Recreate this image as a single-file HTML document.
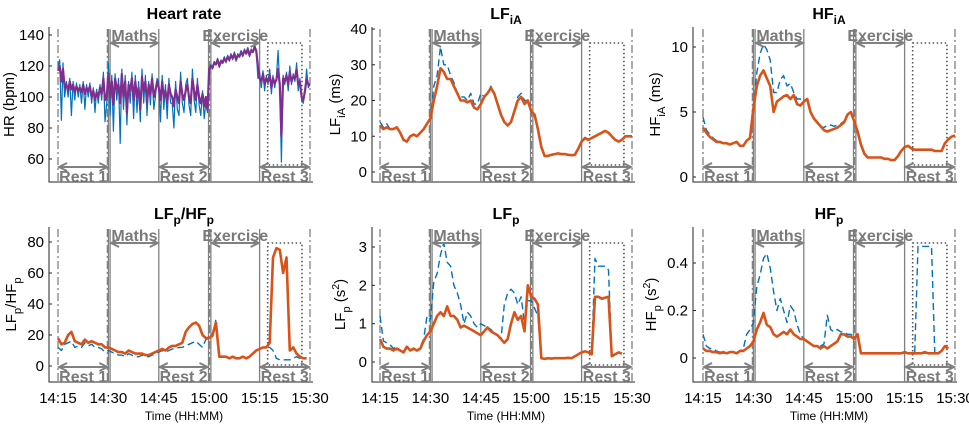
<!DOCTYPE html>
<html><head><meta charset="utf-8"><style>
html,body{margin:0;padding:0;background:#fff;}
svg{display:block;font-family:"Liberation Sans",sans-serif;}
</style></head><body>
<svg id="chart" width="969" height="425" viewBox="0 0 969 425" xmlns="http://www.w3.org/2000/svg"></svg>
<script>
// ---- data (minutes since 14:15) ----
const timeTicks = [0,15,30,45,60,75];
const timeTickLabels = ["14:15","14:30","14:45","15:00","15:15","15:30"];
const segmentNames = ["Rest 1","Maths","Rest 2","Exercise","Rest 3"];
// HR at 0.5 min resolution
const hrFiltered = [117,120,110,118,106,108,104,110,105,108,103,107,104,106,103,108,102,106,104,107,100,104,98,103,100,106,102,112,98,100,
 115,100,110,95,112,105,108,96,115,100,110,90,108,104,112,98,110,100,106,92,113,104,110,96,108,102,112,100,104,110,
 106,98,110,100,104,96,108,102,100,94,105,100,96,110,102,98,104,108,100,96,112,104,98,108,100,96,102,94,100,92,
 118,120,119,122,121,124,120,123,122,125,123,126,124,127,125,128,124,127,126,129,127,130,128,131,127,130,129,132,130,120,
 112,110,115,108,112,110,114,106,112,109,111,118,108,75,112,110,114,108,116,110,113,112,118,108,110,100,98,104,112,108,108];
const hrRaw = [120,124,85,122,100,110,100,112,88,110,98,109,100,108,96,110,92,108,100,109,96,106,90,105,96,108,98,116,84,96,
 122,88,114,78,115,98,112,70,118,92,114,82,110,96,116,86,114,90,110,84,118,96,114,88,110,95,115,92,100,112,
 110,84,114,92,108,86,112,96,96,80,110,92,88,116,96,90,108,112,95,88,118,98,90,112,95,88,104,86,96,90,
 118,121,118,123,121,125,119,124,122,126,122,127,123,128,124,129,123,128,126,130,126,131,128,132,126,131,129,134,130,112,
 116,106,117,104,114,108,118,102,114,106,113,130,106,58,114,108,116,104,120,108,115,110,122,104,112,98,96,104,118,106,108];
// 1-min resolution series
const lfiaMean = [13,12,12.5,12,12,12.5,11,9,8.5,10,10.5,10,11,12,13.5,15,20,24,29,28,26,26,24,22,20,20,19.5,20,18,17.5,19,21,22,23.5,22,19,16,14,13,14,17,20,21,19,20,17,16,12,7,4.5,4.5,4.8,5,5.2,5,5,4.8,4.7,4.8,6.5,8.5,9.5,9,9.5,10,10.5,11,11.5,11,10,9,8.5,9,10,10,10];
const lfiaRaw = [14,12.5,13.5,12,12,12.5,11,9,8.5,10,10.5,10,11,12,13.5,15,24,27,35,30,30,27,25,22,21,21,20,22,19,19,22,21,22,24,22,19,16,14,13,14,17,21,22,20,20,17,16,12,7,4.5,4.5,4.8,5,5.2,5,5,4.8,4.7,4.8,6.5,8.5,9.5,9,9.5,10,10.5,11,11.5,11,10,9,8.5,9,10,10,10];
const hfiaMean = [3.8,3.4,3.1,2.9,2.7,2.7,2.6,2.6,2.5,2.6,2.7,2.4,2.4,2.8,3.0,5.3,7.0,7.8,8.2,7.6,7.0,5.0,5.8,6.0,6.2,6.3,6.0,6.3,5.6,5.5,5.8,6.0,5.0,4.5,4.2,3.9,3.6,3.5,3.6,3.7,3.8,4.0,4.2,4.8,5.0,4.3,3.5,2.5,1.8,1.5,1.5,1.5,1.5,1.5,1.4,1.4,1.3,1.3,1.6,2.0,2.3,2.4,2.2,2.1,2.1,2.1,2.1,2.1,2.1,2.0,2.0,2.0,2.6,2.9,3.1,3.2];
const hfiaRaw = [4.6,3.6,3.3,3.0,2.8,2.7,2.6,2.6,2.5,2.6,2.7,2.4,2.4,2.8,3.0,5.5,8.0,9.5,10.2,9.8,9.0,6.5,6.5,7.5,7.8,7.0,7.2,6.5,6.0,6.0,5.9,6.0,5.0,4.5,4.2,3.9,3.8,4.0,4.0,3.9,4.0,4.1,4.3,4.8,5.0,4.3,3.5,2.5,1.8,1.5,1.5,1.5,1.5,1.5,1.4,1.4,1.3,1.3,1.6,2.0,2.3,2.4,2.2,2.1,2.1,2.1,2.1,2.1,2.1,2.0,2.0,2.0,2.6,2.9,3.1,3.2];
const ratioMean = [18,14,15,20,22,16,15,14,17,15,16,15,14,14,12,12,11,10,9,9,8,10,9,8,8,8,7,7,8,9,10,11,10,12,13,13,14,15,22,25,27,28,26,20,18,18,20,28,6,6,6,5,6,5,5,6,5,6,8,10,11,12,12,15,70,76,75,60,70,10,12,8,6,5,5];
const ratioRaw = [12,10,14,15,16,12,13,12,15,13,14,12,12,11,9,10,9,8,7,7,6,8,7,6,6,7,6,6,7,8,9,10,9,10,11,11,12,12,13,14,15,16,14,12,17,18,19,30,6,6,6,5,6,5,5,6,5,6,8,10,11,12,12,12,10,5,4,4,4,4,5,6,5,5,5];
const lfpMean = [0.6,0.4,0.35,0.35,0.3,0.35,0.3,0.25,0.4,0.3,0.35,0.3,0.35,0.55,0.7,0.8,1.0,1.2,1.3,1.2,1.45,1.2,1.2,1.1,0.9,0.95,0.9,0.85,0.8,0.75,0.7,0.8,0.9,0.8,0.75,0.7,0.6,0.5,0.6,1.0,1.3,1.1,1.2,0.8,2.0,1.7,1.65,1.5,0.1,0.08,0.1,0.09,0.1,0.1,0.1,0.1,0.11,0.1,0.15,0.2,0.25,0.28,0.25,0.2,1.7,1.7,1.65,1.68,1.7,0.15,0.2,0.25,0.22];
const lfpRaw = [1.2,0.55,0.5,0.45,0.35,0.4,0.3,0.25,0.4,0.3,0.35,0.3,0.4,0.6,1.2,1.1,2.1,2.3,2.8,3.1,2.6,2.5,2.0,1.8,1.5,1.0,1.3,1.2,1.0,0.9,1.0,0.95,0.9,0.85,0.75,0.7,0.6,1.5,1.8,1.9,1.8,1.5,1.7,1.0,1.6,1.6,1.4,1.2,0.1,0.08,0.1,0.09,0.1,0.1,0.1,0.1,0.11,0.1,0.15,0.2,0.25,0.28,0.25,0.2,2.7,2.5,2.5,2.5,2.4,0.15,0.2,0.25,0.22];
const hfpMean = [0.04,0.03,0.03,0.025,0.025,0.02,0.025,0.02,0.025,0.025,0.02,0.03,0.03,0.04,0.05,0.07,0.12,0.15,0.19,0.14,0.13,0.1,0.09,0.1,0.11,0.1,0.12,0.1,0.09,0.08,0.08,0.07,0.06,0.05,0.05,0.04,0.05,0.04,0.05,0.06,0.07,0.1,0.1,0.09,0.09,0.08,0.1,0.02,0.02,0.02,0.02,0.02,0.02,0.02,0.02,0.02,0.02,0.02,0.02,0.02,0.025,0.02,0.02,0.02,0.02,0.02,0.025,0.02,0.02,0.02,0.02,0.03,0.05,0.04];
const hfpRaw = [0.1,0.05,0.04,0.04,0.03,0.025,0.025,0.02,0.025,0.025,0.02,0.03,0.04,0.1,0.12,0.15,0.3,0.35,0.42,0.44,0.38,0.28,0.2,0.25,0.2,0.15,0.22,0.2,0.14,0.1,0.08,0.07,0.06,0.05,0.05,0.05,0.06,0.18,0.12,0.11,0.12,0.11,0.11,0.1,0.1,0.09,0.1,0.02,0.02,0.02,0.02,0.02,0.02,0.02,0.02,0.02,0.02,0.02,0.02,0.02,0.025,0.02,0.02,0.02,0.47,0.47,0.47,0.47,0.47,0.02,0.02,0.03,0.05,0.04];

const NS="http://www.w3.org/2000/svg";
const svg=document.getElementById('chart');
function el(tag,attrs,parent){const e=document.createElementNS(NS,tag);for(const k in attrs)e.setAttribute(k,attrs[k]);(parent||svg).appendChild(e);return e;}

const PXMIN=252/75;
const rows=[{top:27,bottom:182},{top:227,bottom:382}];
const cols=[{axis:49,t0:58,end:313},{axis:372,t0:380,end:635},{axis:693,t0:703,end:957}];

const panels=[
 {name:'heart-rate',row:0,col:0,title:[['Heart rate','']],ylab:[['HR (bpm)','']],ylx:14,v0:60,p0:159,v1:140,p1:35,ticks:[60,80,100,120,140],lbl:['60','80','100','120','140'],blue:hrRaw,orange:hrFiltered,step:0.5,hr:true},
 {name:'lf-ia',row:0,col:1,title:[['LF',''],['iA','sub']],ylab:[['LF',''],['iA','sub'],[' (ms)','']],ylx:340,v0:0,p0:172,v1:40,p1:29,ticks:[0,10,20,30,40],lbl:['0','10','20','30','40'],blue:lfiaRaw,orange:lfiaMean,step:1},
 {name:'hf-ia',row:0,col:2,title:[['HF',''],['iA','sub']],ylab:[['HF',''],['iA','sub'],[' (ms)','']],ylx:660,v0:0,p0:177,v1:10,p1:47,ticks:[0,5,10],lbl:['0','5','10'],blue:hfiaRaw,orange:hfiaMean,step:1},
 {name:'lf-hf-ratio',row:1,col:0,title:[['LF',''],['p','sub'],['/HF',''],['p','sub']],ylab:[['LF',''],['p','sub'],['/HF',''],['p','sub']],ylx:16,v0:0,p0:366,v1:80,p1:242,ticks:[0,20,40,60,80],lbl:['0','20','40','60','80'],blue:ratioRaw,orange:ratioMean,step:1},
 {name:'lf-p',row:1,col:1,title:[['LF',''],['p','sub']],ylab:[['LF',''],['p','sub'],[' (s',''],['2','sup'],[')','']],ylx:345,v0:0,p0:362,v1:3,p1:247,ticks:[0,1,2,3],lbl:['0','1','2','3'],blue:lfpRaw,orange:lfpMean,step:1},
 {name:'hf-p',row:1,col:2,title:[['HF',''],['p','sub']],ylab:[['HF',''],['p','sub'],[' (s',''],['2','sup'],[')','']],ylx:656,v0:0,p0:358,v1:0.4,p1:263,ticks:[0,0.2,0.4],lbl:['0','0.2','0.4'],blue:hfpRaw,orange:hfpMean,step:1}
];

function richText(parent,parts,attrs){
  const t=el('text',attrs,parent);
  let shift=0;
  parts.forEach(([s,k])=>{
    const sp=el('tspan',{},t);
    let d=0;
    if(k==='sub'){d=5;sp.setAttribute('font-size','0.75em');}
    if(k==='sup'){d=-6;sp.setAttribute('font-size','0.7em');}
    if(d-shift!==0)sp.setAttribute('dy',d-shift);
    shift=d;
    sp.textContent=s;
  });
  if(shift!==0){const sp=el('tspan',{dy:-shift},t);sp.textContent='\u200b';}
  return t;
}

panels.forEach(p=>{
  const R=rows[p.row],C=cols[p.col];
  const g=el('g',{});
  
  
  const X=t=>C.t0+t*PXMIN;
  const Y=v=>p.p0+(v-p.v0)*(p.p1-p.p0)/(p.v1-p.v0);
  const grey='#808080';
  // axes
  const ax=el('path',{d:`M${C.axis},${R.top}V${R.bottom}H${C.end}`,stroke:'#262626','stroke-width':1,fill:'none'},g);
  
  
  p.ticks.forEach((v,i)=>{
    el('line',{x1:C.axis,x2:C.axis+3,y1:Y(v),y2:Y(v),stroke:'#262626'},g);
    const tl=el('text',{x:C.axis-5,y:Y(v)+5,'text-anchor':'end','font-size':15,fill:'#000'},g);
    
    
    tl.textContent=p.lbl[i];
  });
  if(p.row===1){
    timeTicks.forEach((t,i)=>{
      const tl=el('text',{x:X(t),y:403,'text-anchor':'middle','font-size':15,fill:'#000'},g);
      
      
      tl.textContent=timeTickLabels[i];
    });
    const xl=el('text',{x:X(37.5),y:420,'text-anchor':'middle','font-size':12,fill:'#000'},g);
    
    
    xl.textContent='Time (HH:MM)';
  }
  // segment lines
  const solid=[15,15.5,30,44.8,45.5,60], dashdot=[0,14.7,45.1,75];
  solid.forEach(t=>el('line',{x1:X(t),x2:X(t),y1:R.top+2,y2:R.bottom,stroke:grey,'stroke-width':1.3},g));
  dashdot.forEach(t=>el('line',{x1:X(t),x2:X(t),y1:R.top+2,y2:R.bottom,stroke:grey,'stroke-width':1.3,'stroke-dasharray':'8,3,2,3'},g));
  // dotted box
  const box=el('rect',{x:X(62.4),y:R.top+16,width:X(72.6)-X(62.4),height:(R.bottom-17)-(R.top+16),fill:'none',stroke:'#555','stroke-width':1.6,'stroke-dasharray':'1.5,2.5'},g);
  
  
  // series
  function poly(arr,attrs,nm){
    let d='';arr.forEach((v,i)=>{d+=(i?'L':'M')+X(i*p.step).toFixed(1)+','+Y(v).toFixed(1);});
    const pa=el('path',Object.assign({d:d,fill:'none','stroke-linejoin':'round'},attrs),g);
    
    
  }
  if(p.hr){
    poly(p.blue,{stroke:'#0072BD','stroke-width':1.2},'raw-line');
    poly(p.orange,{stroke:'#7E2F8E','stroke-width':2.2},'filtered-line');
  }else{
    poly(p.blue,{stroke:'#0072BD','stroke-width':1.4,'stroke-dasharray':'7,4'},'raw-line');
    poly(p.orange,{stroke:'#D95319','stroke-width':2.6},'mean-line');
  }
  // arrows
  const segs=[[0,15,'b'],[15.5,30,'t'],[30,44.8,'b'],[45.5,60,'t'],[60,75,'b']];
  segs.forEach((s,i)=>{
    const y=s[2]==='b'?R.bottom-15:R.top+16;
    const x1=X(s[0]),x2=X(s[1]);
    el('line',{x1:x1+2,x2:x2-2,y1:y,y2:y,stroke:grey,'stroke-width':2},g);
    el('path',{d:`M${x1+9},${y-4}L${x1+1},${y}L${x1+9},${y+4}M${x2-9},${y-4}L${x2-1},${y}L${x2-9},${y+4}`,stroke:grey,'stroke-width':2,fill:'none'},g);
    const ty=s[2]==='b'?R.bottom+0:R.top+14;
    const lt=el('text',{x:(x1+x2)/2,y:ty,'text-anchor':'middle','font-size':16,'font-weight':'bold',fill:'#7a7a7a'},g);
    
    
    lt.textContent=segmentNames[i];
  });
  // title
  const tt=richText(g,p.title,{x:X(37.5),y:R.top-8,'text-anchor':'middle','font-size':16,'font-weight':'bold',fill:'#000'});
  
  
  const yl=richText(g,p.ylab,{x:0,y:0,'text-anchor':'middle','font-size':15,fill:'#000',transform:`translate(${p.ylx},${(R.top+R.bottom)/2}) rotate(-90)`});
  
  
});
</script>
</body></html>
